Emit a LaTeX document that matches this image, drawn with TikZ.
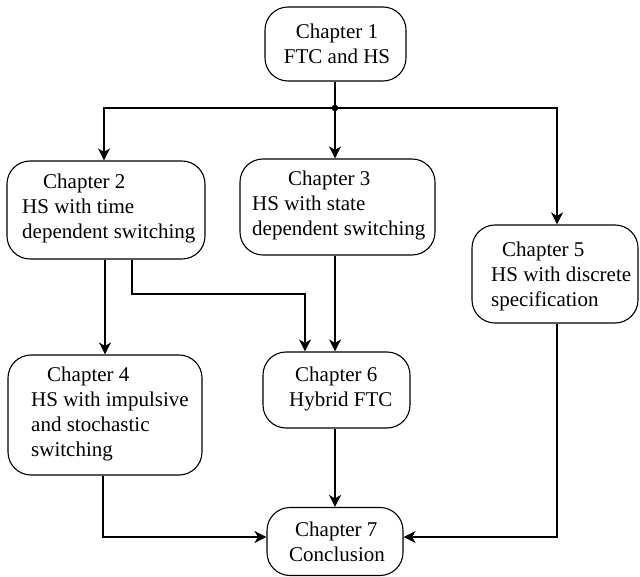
\documentclass[tikz,border=0pt]{standalone}
\usepackage{fontspec}
\setmainfont{Liberation Serif}
\usetikzlibrary{arrows.meta}
\tikzset{
  box/.style={draw, line width=1.1pt, rounded corners=23pt, inner sep=0pt},
  txt/.style={inner sep=0pt, align=left, font=\fontsize{21}{25}\selectfont},
  ctxt/.style={inner sep=0pt, align=center, font=\fontsize{21}{25}\selectfont},
  line/.style={line width=1.1pt},
  arr/.style={line width=1.1pt, -{Stealth[length=12pt,width=12pt,inset=3.5pt]}}
}
\begin{document}
\begin{tikzpicture}[x=1pt,y=-1pt]
\useasboundingbox (0,0) rectangle (640,577);
% boxes
\node[box, minimum width=141pt, minimum height=74pt] (c1) at (335.5,44) {};
\node[box, minimum width=198pt, minimum height=98pt] (c2) at (106,210) {};
\node[box, minimum width=195pt, minimum height=96pt] (c3) at (337.5,207) {};
\node[box, minimum width=166pt, minimum height=98pt] (c5) at (555,274) {};
\node[box, minimum width=194pt, minimum height=120pt] (c4) at (105,415) {};
\node[box, minimum width=147pt, minimum height=76pt] (c6) at (336.5,390) {};
\node[box, minimum width=136pt, minimum height=68pt] (c7) at (335,541.5) {};
% texts
\node[ctxt] (t1) at (337,43.5) {Chapter 1\\FTC and HS};
\node[txt, anchor=west] (t2) at (22,208) {\hspace*{21pt}Chapter 2\\HS with time\\dependent switching};
\node[txt, anchor=west] (t3) at (252,205) {\hspace*{36pt}Chapter 3\\HS with state\\dependent switching};
\node[txt, anchor=west] (t5) at (491,276) {\hspace*{11pt}Chapter 5\\HS with discrete\\specification};
\node[txt, anchor=west] (t4) at (31,414) {\hspace*{16pt}Chapter 4\\HS with impulsive\\and stochastic\\switching};
\node[txt, anchor=west] (t6) at (289,389) {\hspace*{6pt}Chapter 6\\Hybrid FTC};
\node[txt, anchor=west] (t7) at (289,542) {\hspace*{6pt}Chapter 7\\Conclusion};
% connectors
\coordinate (j) at (335,108);
\coordinate (k) at (305,294);
\draw[line] (c1.south -| j) -- (j);
\fill (j) circle (3.3);
\draw[arr] (j) -| ([xshift=-2pt]c2.north);
\draw[arr] (j) -- (j |- c3.north);
\draw[arr] (j) -| ([xshift=2pt]c5.north);
\draw[arr] (c2.south -| c4.north) -- (c4.north);
\draw[arr] ([xshift=26pt]c2.south) |- (k) -- (k |- c6.north);
\draw[arr] (c3.south -| j) -- (c6.north -| j);
\draw[arr] (c6.south -| j) -- (c7.north);
\draw[arr] ([xshift=-2pt]c4.south) |- ([yshift=4.5pt]c7.west);
\draw[arr] ([xshift=2pt]c5.south) |- ([yshift=4.5pt]c7.east);
\end{tikzpicture}
\end{document}
